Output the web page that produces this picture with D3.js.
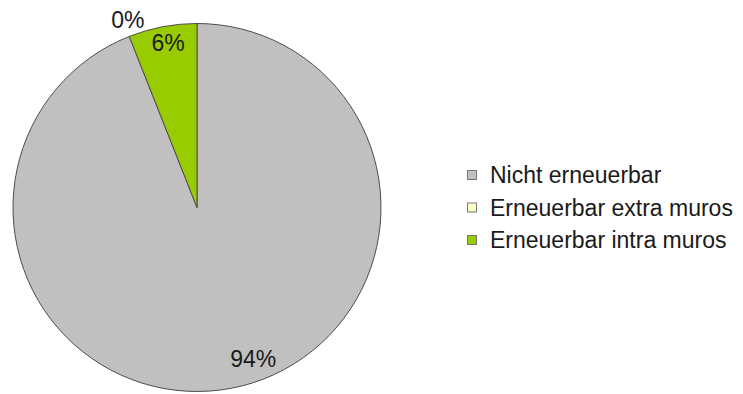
<!DOCTYPE html>
<html>
<head>
<meta charset="utf-8">
<script src="https://cdn.jsdelivr.net/npm/d3@7"></script>
<style>
  html, body { margin: 0; padding: 0; background: #ffffff; }
  svg { display: block; }
  text { font-family: "Liberation Sans", Arial, sans-serif; fill: #1a1a1a; }
</style>
</head>
<body>
<svg id="chart" width="743" height="394"></svg>
<script>
// Energy mix shares (percent)
const categories = ["Nicht erneuerbar", "Erneuerbar extra muros", "Erneuerbar intra muros"];
const shares = [94, 0, 6];
const sliceColors = ["#c0c0c0", "#ffffcc", "#99cc00"];

// Label placement: distance from centre and small angular nudge (degrees)
const labelRadius = [162, 200, 167];
const labelNudge = [-9.5, 1.4, 0.8];

const width = 743, height = 394;
const cx = 197, cy = 207.5, r = 184;

const svg = d3.select("#chart");

const pie = d3.pie().sort(null).value(d => d.value);
const data = categories.map((c, i) => ({ name: c, value: shares[i], color: sliceColors[i], idx: i }));
const arcs = pie(data);

const arc = d3.arc().innerRadius(0).outerRadius(r);

const g = svg.append("g").attr("transform", `translate(${cx},${cy})`);

g.selectAll("path.slice")
  .data(arcs.filter(d => d.value > 0))
  .join("path")
  .attr("class", "slice")
  .attr("d", arc)
  .attr("fill", d => d.data.color)
  .attr("stroke", "#4d4d4d")
  .attr("stroke-width", 1)
  .attr("stroke-linejoin", "round");

// Percentage labels
g.selectAll("text.pct")
  .data(arcs)
  .join("text")
  .attr("class", "pct")
  .attr("text-anchor", "middle")
  .attr("dominant-baseline", "central")
  .attr("font-size", 23)
  .attr("transform", d => {
    const i = d.data.idx;
    const a = (d.startAngle + d.endAngle) / 2 + labelNudge[i] * Math.PI / 180;
    const rr = labelRadius[i];
    return `translate(${rr * Math.sin(a)},${-rr * Math.cos(a)})`;
  })
  .text(d => d3.format(".0f")(d.data.value) + "%");

// Legend
const legend = svg.append("g").attr("transform", "translate(467,175)");
const rowStep = 32.5;
const items = legend.selectAll("g.item")
  .data(data)
  .join("g")
  .attr("class", "item")
  .attr("transform", (d, i) => `translate(0,${i * rowStep})`);

items.append("rect")
  .attr("x", 0.5).attr("y", -4.5)
  .attr("width", 9).attr("height", 9)
  .attr("fill", d => d.color)
  .attr("stroke", "#777777")
  .attr("stroke-width", 1);

items.append("text")
  .attr("x", 23)
  .attr("y", 0)
  .attr("dominant-baseline", "central")
  .attr("font-size", 23)
  .text(d => d.name);
</script>
</body>
</html>
